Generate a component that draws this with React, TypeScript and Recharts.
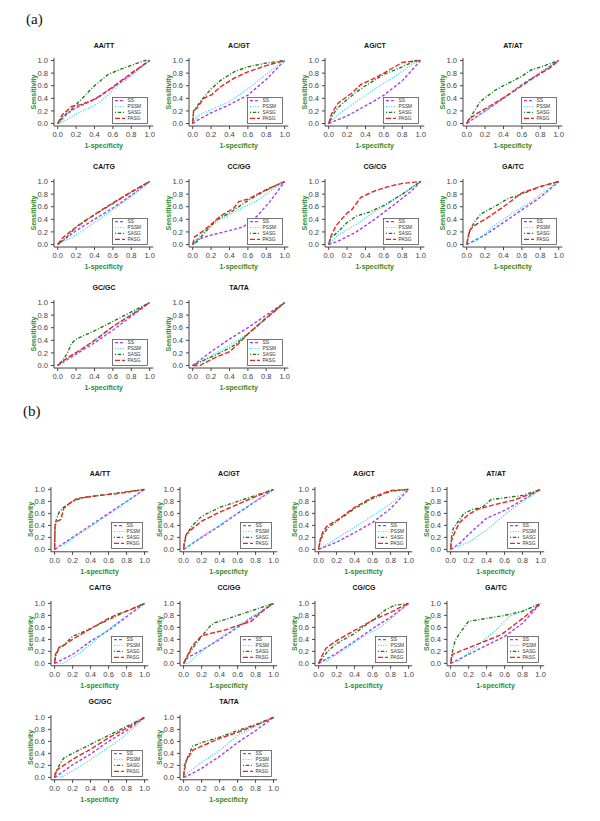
import { LineChart, Line, XAxis, YAxis, Legend } from "recharts";

// ---- series styles ----
const SERIES = [
  { key: "SS", color: "#a43ff0", dash: "3 2" },
  { key: "PSSM", color: "#2fdcee", dash: "1 1.6" },
  { key: "SASG", color: "#1d7d1d", dash: "1 1.8 3.5 1.8" },
  { key: "PASG", color: "#ee2222", dash: "5 2" },
];

const TICKS = [0, 0.2, 0.4, 0.6, 0.8, 1];

// ---- panel (a) ----
const a_AATT = {
  title: "AA/TT",
  SS: [[0, 0], [0.1, 0.15], [0.2, 0.25], [0.4, 0.38], [0.6, 0.57], [0.8, 0.78], [0.95, 0.95], [1, 1]],
  PSSM: [[0, 0], [0.1, 0.06], [0.2, 0.15], [0.3, 0.22], [0.45, 0.33], [0.55, 0.45], [0.65, 0.6], [0.8, 0.75], [1, 1]],
  SASG: [[0, 0], [0.05, 0.1], [0.15, 0.22], [0.2, 0.3], [0.3, 0.45], [0.4, 0.6], [0.55, 0.78], [0.7, 0.87], [0.85, 0.95], [0.95, 1], [1, 1]],
  PASG: [[0, 0], [0.05, 0.14], [0.1, 0.2], [0.15, 0.27], [0.25, 0.3], [0.35, 0.35], [0.45, 0.43], [0.6, 0.58], [0.8, 0.8], [0.9, 0.9], [1, 1]],
};
const a_ACGT = {
  title: "AC/GT",
  SS: [[0, 0], [0.05, 0.05], [0.2, 0.17], [0.4, 0.3], [0.6, 0.45], [0.8, 0.7], [1, 1]],
  PSSM: [[0, 0], [0.05, 0.12], [0.2, 0.22], [0.4, 0.35], [0.6, 0.55], [0.8, 0.78], [1, 1]],
  SASG: [[0, 0], [0.01, 0.2], [0.05, 0.28], [0.1, 0.38], [0.2, 0.55], [0.3, 0.68], [0.45, 0.82], [0.6, 0.9], [0.8, 0.96], [1, 1]],
  PASG: [[0, 0], [0.01, 0.2], [0.05, 0.25], [0.12, 0.4], [0.2, 0.45], [0.3, 0.58], [0.45, 0.72], [0.6, 0.82], [0.8, 0.92], [1, 1]],
};
const a_AGCT = {
  title: "AG/CT",
  SS: [[0, 0], [0.2, 0.12], [0.4, 0.28], [0.6, 0.45], [0.8, 0.68], [1, 1]],
  PSSM: [[0, 0], [0.1, 0.14], [0.3, 0.35], [0.5, 0.55], [0.7, 0.73], [0.9, 0.93], [1, 1]],
  SASG: [[0, 0], [0.05, 0.15], [0.1, 0.25], [0.2, 0.38], [0.3, 0.5], [0.4, 0.6], [0.6, 0.78], [0.8, 0.9], [0.95, 1], [1, 1]],
  PASG: [[0, 0], [0.03, 0.15], [0.1, 0.32], [0.2, 0.43], [0.25, 0.48], [0.35, 0.62], [0.5, 0.72], [0.6, 0.8], [0.8, 0.97], [1, 1]],
};
const a_ATAT = {
  title: "AT/AT",
  SS: [[0, 0], [0.2, 0.2], [0.4, 0.4], [0.6, 0.62], [0.8, 0.8], [1, 1]],
  PSSM: [[0, 0], [0.2, 0.19], [0.4, 0.4], [0.6, 0.61], [0.8, 0.82], [1, 1]],
  SASG: [[0, 0], [0.05, 0.12], [0.15, 0.35], [0.3, 0.52], [0.4, 0.6], [0.6, 0.75], [0.7, 0.85], [0.85, 0.92], [1, 1]],
  PASG: [[0, 0], [0.02, 0.06], [0.1, 0.15], [0.3, 0.32], [0.5, 0.5], [0.7, 0.7], [0.9, 0.88], [1, 1]],
};
const a_CATG = {
  title: "CA/TG",
  SS: [[0, 0], [0.2, 0.22], [0.4, 0.4], [0.6, 0.58], [0.8, 0.78], [1, 1]],
  PSSM: [[0, 0], [0.2, 0.15], [0.4, 0.35], [0.6, 0.55], [0.8, 0.76], [1, 1]],
  SASG: [[0, 0], [0.1, 0.12], [0.2, 0.28], [0.4, 0.47], [0.6, 0.65], [0.8, 0.83], [1, 1]],
  PASG: [[0, 0], [0.05, 0.1], [0.15, 0.22], [0.3, 0.38], [0.5, 0.57], [0.7, 0.75], [0.9, 0.92], [1, 1]],
};
const a_CCGG = {
  title: "CC/GG",
  SS: [[0, 0], [0.05, 0.08], [0.2, 0.15], [0.4, 0.22], [0.55, 0.28], [0.7, 0.45], [0.85, 0.7], [1, 1]],
  PSSM: [[0, 0], [0.1, 0.18], [0.3, 0.4], [0.5, 0.55], [0.7, 0.7], [0.85, 0.85], [1, 1]],
  SASG: [[0, 0], [0.05, 0.05], [0.15, 0.22], [0.25, 0.38], [0.4, 0.5], [0.55, 0.65], [0.7, 0.78], [0.85, 0.9], [1, 1]],
  PASG: [[0, 0], [0.02, 0.12], [0.1, 0.2], [0.2, 0.32], [0.3, 0.45], [0.45, 0.58], [0.5, 0.68], [0.6, 0.72], [0.8, 0.87], [1, 1]],
};
const a_CGCG = {
  title: "CG/CG",
  SS: [[0, 0], [0.1, 0.05], [0.3, 0.2], [0.5, 0.4], [0.7, 0.62], [0.9, 0.85], [1, 1]],
  PSSM: [[0, 0], [0.1, 0.15], [0.3, 0.32], [0.5, 0.52], [0.7, 0.7], [0.9, 0.9], [1, 1]],
  SASG: [[0, 0], [0.02, 0.1], [0.1, 0.2], [0.2, 0.35], [0.3, 0.45], [0.45, 0.52], [0.6, 0.62], [0.8, 0.8], [1, 1]],
  PASG: [[0, 0], [0.02, 0.12], [0.08, 0.3], [0.2, 0.5], [0.25, 0.55], [0.35, 0.75], [0.5, 0.85], [0.65, 0.92], [0.8, 0.97], [1, 1]],
};
const a_GATC = {
  title: "GA/TC",
  SS: [[0, 0], [0.2, 0.15], [0.4, 0.35], [0.6, 0.55], [0.8, 0.75], [1, 1]],
  PSSM: [[0, 0], [0.1, 0.05], [0.3, 0.3], [0.5, 0.5], [0.7, 0.68], [0.9, 0.9], [1, 1]],
  SASG: [[0, 0], [0.03, 0.2], [0.08, 0.35], [0.15, 0.48], [0.3, 0.6], [0.45, 0.73], [0.6, 0.8], [0.8, 0.92], [1, 1]],
  PASG: [[0, 0], [0.03, 0.22], [0.08, 0.3], [0.2, 0.4], [0.4, 0.6], [0.6, 0.82], [0.8, 0.92], [1, 1]],
};
const a_GCGC = {
  title: "GC/GC",
  SS: [[0, 0], [0.2, 0.18], [0.4, 0.36], [0.6, 0.56], [0.8, 0.78], [1, 1]],
  PSSM: [[0, 0], [0.2, 0.2], [0.4, 0.4], [0.6, 0.62], [0.8, 0.82], [1, 1]],
  SASG: [[0, 0], [0.05, 0.08], [0.1, 0.18], [0.15, 0.35], [0.2, 0.42], [0.4, 0.55], [0.6, 0.7], [0.8, 0.85], [1, 1]],
  PASG: [[0, 0], [0.1, 0.12], [0.25, 0.25], [0.45, 0.45], [0.6, 0.62], [0.8, 0.8], [1, 1]],
};
const a_TATA = {
  title: "TA/TA",
  SS: [[0, 0], [0.2, 0.22], [0.4, 0.42], [0.6, 0.6], [0.8, 0.8], [1, 1]],
  PSSM: [[0, 0], [0.2, 0.15], [0.4, 0.32], [0.6, 0.5], [0.8, 0.75], [1, 1]],
  SASG: [[0, 0], [0.1, 0.07], [0.3, 0.2], [0.45, 0.32], [0.6, 0.5], [0.8, 0.76], [1, 1]],
  PASG: [[0, 0], [0.08, 0], [0.1, 0.02], [0.25, 0.13], [0.4, 0.22], [0.5, 0.35], [0.6, 0.5], [0.8, 0.75], [1, 1]],
};

// ---- panel (b) ----
const b_AATT = {
  title: "AA/TT",
  SS: [[0, 0], [0.2, 0.2], [0.4, 0.4], [0.6, 0.6], [0.8, 0.8], [1, 1]],
  PSSM: [[0, 0], [0.1, 0.08], [0.3, 0.28], [0.6, 0.58], [0.8, 0.79], [1, 1]],
  SASG: [[0, 0], [0.005, 0.4], [0.02, 0.5], [0.05, 0.62], [0.1, 0.7], [0.2, 0.8], [0.3, 0.86], [0.5, 0.9], [0.7, 0.94], [1, 1]],
  PASG: [[0, 0], [0.005, 0.4], [0.03, 0.47], [0.07, 0.5], [0.1, 0.68], [0.15, 0.75], [0.25, 0.85], [0.5, 0.9], [0.7, 0.93], [1, 1]],
};
const b_ACGT = {
  title: "AC/GT",
  SS: [[0, 0], [0.2, 0.2], [0.4, 0.39], [0.6, 0.6], [0.8, 0.8], [1, 1]],
  PSSM: [[0, 0], [0.2, 0.21], [0.4, 0.41], [0.6, 0.61], [0.8, 0.81], [1, 1]],
  SASG: [[0, 0], [0.01, 0.15], [0.03, 0.25], [0.1, 0.4], [0.2, 0.55], [0.4, 0.7], [0.6, 0.8], [0.8, 0.9], [1, 1]],
  PASG: [[0, 0], [0.01, 0.1], [0.03, 0.25], [0.1, 0.35], [0.2, 0.47], [0.4, 0.62], [0.6, 0.75], [0.8, 0.88], [1, 1]],
};
const b_AGCT = {
  title: "AG/CT",
  SS: [[0, 0], [0.2, 0.12], [0.4, 0.28], [0.6, 0.45], [0.8, 0.68], [1, 1]],
  PSSM: [[0, 0], [0.2, 0.18], [0.4, 0.37], [0.6, 0.56], [0.8, 0.76], [0.95, 0.95], [1, 1]],
  SASG: [[0, 0], [0.02, 0.15], [0.05, 0.25], [0.1, 0.35], [0.2, 0.47], [0.4, 0.68], [0.6, 0.85], [0.8, 0.97], [1, 1]],
  PASG: [[0, 0], [0.02, 0.18], [0.05, 0.3], [0.1, 0.4], [0.2, 0.48], [0.4, 0.7], [0.6, 0.87], [0.8, 0.98], [1, 1]],
};
const b_ATAT = {
  title: "AT/AT",
  SS: [[0, 0], [0.1, 0.1], [0.2, 0.25], [0.4, 0.52], [0.6, 0.65], [0.8, 0.82], [1, 1]],
  PSSM: [[0, 0], [0.2, 0.12], [0.4, 0.32], [0.6, 0.58], [0.8, 0.8], [1, 1]],
  SASG: [[0, 0], [0.01, 0.2], [0.03, 0.35], [0.1, 0.5], [0.15, 0.6], [0.25, 0.67], [0.35, 0.7], [0.45, 0.83], [0.6, 0.86], [0.8, 0.9], [1, 1]],
  PASG: [[0, 0], [0.01, 0.15], [0.05, 0.3], [0.1, 0.45], [0.2, 0.58], [0.3, 0.67], [0.5, 0.75], [0.7, 0.82], [0.9, 0.93], [1, 1]],
};
const b_CATG = {
  title: "CA/TG",
  SS: [[0, 0], [0.2, 0.15], [0.4, 0.37], [0.6, 0.55], [0.8, 0.78], [1, 1]],
  PSSM: [[0, 0], [0.1, 0], [0.3, 0.2], [0.5, 0.45], [0.7, 0.68], [0.85, 0.85], [1, 1]],
  SASG: [[0, 0], [0.01, 0.12], [0.05, 0.25], [0.1, 0.3], [0.2, 0.45], [0.4, 0.58], [0.6, 0.73], [0.8, 0.87], [1, 1]],
  PASG: [[0, 0], [0.01, 0.15], [0.05, 0.27], [0.1, 0.3], [0.2, 0.4], [0.4, 0.58], [0.6, 0.75], [0.7, 0.82], [0.85, 0.9], [1, 1]],
};
const b_CCGG = {
  title: "CC/GG",
  SS: [[0, 0], [0.05, 0.1], [0.2, 0.22], [0.4, 0.4], [0.6, 0.6], [0.8, 0.8], [1, 1]],
  PSSM: [[0, 0], [0.05, 0], [0.2, 0.2], [0.4, 0.42], [0.6, 0.62], [0.8, 0.82], [1, 1]],
  SASG: [[0, 0], [0.05, 0.15], [0.1, 0.25], [0.2, 0.45], [0.3, 0.63], [0.35, 0.68], [0.5, 0.75], [0.7, 0.85], [0.9, 0.95], [1, 1]],
  PASG: [[0, 0], [0.05, 0.15], [0.1, 0.3], [0.2, 0.46], [0.3, 0.5], [0.45, 0.55], [0.6, 0.63], [0.75, 0.7], [0.9, 0.9], [1, 1]],
};
const b_CGCG = {
  title: "CG/CG",
  SS: [[0, 0], [0.2, 0.17], [0.4, 0.37], [0.6, 0.58], [0.8, 0.77], [1, 1]],
  PSSM: [[0, 0], [0.1, 0.05], [0.3, 0.25], [0.5, 0.45], [0.7, 0.62], [0.85, 0.8], [1, 1]],
  SASG: [[0, 0], [0.05, 0.1], [0.1, 0.2], [0.2, 0.33], [0.4, 0.5], [0.6, 0.72], [0.75, 0.9], [0.85, 0.97], [1, 1]],
  PASG: [[0, 0], [0.03, 0.1], [0.08, 0.25], [0.2, 0.38], [0.4, 0.55], [0.6, 0.72], [0.8, 0.85], [0.9, 0.93], [1, 1]],
};
const b_GATC = {
  title: "GA/TC",
  SS: [[0, 0], [0.2, 0.15], [0.4, 0.3], [0.6, 0.45], [0.8, 0.67], [1, 1]],
  PSSM: [[0, 0], [0.1, 0.05], [0.3, 0.3], [0.5, 0.55], [0.65, 0.78], [0.8, 0.87], [1, 1]],
  SASG: [[0, 0], [0.02, 0.2], [0.05, 0.38], [0.1, 0.5], [0.2, 0.7], [0.4, 0.75], [0.6, 0.8], [0.8, 0.87], [1, 1]],
  PASG: [[0, 0], [0.02, 0.15], [0.1, 0.2], [0.3, 0.32], [0.55, 0.47], [0.6, 0.52], [0.8, 0.75], [1, 1]],
};
const b_GCGC = {
  title: "GC/GC",
  SS: [[0, 0], [0.05, 0.05], [0.2, 0.21], [0.4, 0.39], [0.6, 0.6], [0.8, 0.78], [1, 1]],
  PSSM: [[0, 0], [0.1, 0.02], [0.3, 0.2], [0.5, 0.4], [0.7, 0.6], [0.9, 0.85], [1, 1]],
  SASG: [[0, 0], [0.02, 0.1], [0.05, 0.2], [0.1, 0.32], [0.2, 0.4], [0.4, 0.55], [0.6, 0.7], [0.8, 0.85], [1, 1]],
  PASG: [[0, 0], [0.01, 0.1], [0.05, 0.15], [0.1, 0.2], [0.2, 0.3], [0.4, 0.47], [0.6, 0.66], [0.8, 0.82], [1, 1]],
};
const b_TATA = {
  title: "TA/TA",
  SS: [[0, 0], [0.05, 0.03], [0.2, 0.15], [0.4, 0.35], [0.6, 0.58], [0.8, 0.78], [1, 1]],
  PSSM: [[0, 0], [0.05, 0.08], [0.2, 0.25], [0.4, 0.45], [0.6, 0.7], [0.8, 0.85], [1, 1]],
  SASG: [[0, 0], [0.01, 0.2], [0.03, 0.28], [0.05, 0.35], [0.1, 0.52], [0.2, 0.58], [0.4, 0.67], [0.6, 0.78], [0.8, 0.88], [1, 1]],
  PASG: [[0, 0], [0.01, 0.12], [0.03, 0.28], [0.06, 0.35], [0.1, 0.45], [0.2, 0.52], [0.4, 0.65], [0.6, 0.75], [0.8, 0.87], [1, 1]],
};

const PLOTS_A = [a_AATT, a_ACGT, a_AGCT, a_ATAT, a_CATG, a_CCGG, a_CGCG, a_GATC, a_GCGC, a_TATA];
const PLOTS_B = [b_AATT, b_ACGT, b_AGCT, b_ATAT, b_CATG, b_CCGG, b_CGCG, b_GATC, b_GCGC, b_TATA];

// grid layout of the two panels (pixel of value 0 on x, value 1 on y)
const LAYOUT_A = { cols: [58, 193, 329, 467], rows: [61, 182, 303], sx: 92, sy: 63, legW: 36 };
const LAYOUT_B = { cols: [55, 184, 319, 451], rows: [489, 603, 717], sx: 90, sy: 60, legW: 32 };

const FONT = "'Liberation Sans', Arial, sans-serif";
const GREEN = "#2f8a2f";
const PAD = 0.04;

const toXY = (pts: number[][]) => pts.map(([x, y]) => ({ x, y }));

function LegendBox({ w, h }: { w: number; h: number }) {
  return (
    <svg width={w} height={h} style={{ display: "block" }}>
      <rect x={0.5} y={0.5} width={w - 1} height={h - 1} fill="#fff" stroke="#555" strokeWidth={0.8} />
      {SERIES.map((s, i) => {
        const cy = 3.6 + i * 5.9;
        return (
          <g key={s.key}>
            <line x1={3} x2={13} y1={cy} y2={cy} stroke={s.color} strokeWidth={1.2} strokeDasharray={s.dash} />
            <text x={15.5} y={cy + 1.7} fontSize={4.8} fill="#333" fontFamily={FONT}>
              {s.key}
            </text>
          </g>
        );
      })}
    </svg>
  );
}

function RocPlot({ plot, x0, y1, sx, sy, legW }: any) {
  const ML = 40, MT = 8, MR = 4, XH = 26;
  const bw = sx * (1 + 2 * PAD);
  const bh = sy * (1 + 2 * PAD);
  const W = ML + bw + MR;
  const H = MT + bh + XH;
  const left = x0 - sx * PAD - ML;
  const top = y1 - sy * PAD - MT;
  const legH = 27;
  const legLeft = ML + (PAD + 0.98) * sx - legW;
  const legTop = MT + (PAD + 1) * sy - legH;
  const titleY = MT + sy * PAD - 15;
  return (
    <div style={{ position: "absolute", left, top, width: W, height: H }}>
      <div
        style={{
          position: "absolute",
          left: ML,
          width: bw,
          top: titleY - 5,
          height: 10,
          lineHeight: "10px",
          textAlign: "center",
          fontFamily: FONT,
          fontWeight: "bold",
          fontSize: 7,
          color: "#111",
        }}
      >
        {plot.title}
      </div>
      <LineChart width={W} height={H} margin={{ top: MT, right: MR, bottom: 0, left: 0 }}>
        <XAxis
          type="number"
          dataKey="x"
          domain={[-PAD, 1 + PAD]}
          ticks={TICKS}
          interval={0}
          height={XH}
          tickSize={3}
          tickMargin={3}
          tickFormatter={(v: number) => v.toFixed(1)}
          tick={{ fontSize: 7.6, fill: "#444", fontFamily: FONT }}
          stroke="#444"
          label={{
            value: "1-specificty",
            position: "insideBottom",
            offset: 4,
            fill: GREEN,
            fontSize: 7,
            fontWeight: "bold",
            fontFamily: FONT,
          }}
        />
        <YAxis
          type="number"
          domain={[-PAD, 1 + PAD]}
          ticks={TICKS}
          interval={0}
          width={ML}
          tickSize={3}
          tickMargin={3}
          tickFormatter={(v: number) => v.toFixed(1)}
          tick={{ fontSize: 7.6, fill: "#444", fontFamily: FONT }}
          stroke="#444"
          label={{
            value: "Sensitivity",
            angle: -90,
            position: "center",
            fill: GREEN,
            fontSize: 7,
            fontWeight: "bold",
            fontFamily: FONT,
          }}
        />
        <Legend
          layout="vertical"
          align="center"
          verticalAlign="middle"
          wrapperStyle={{ left: legLeft, top: legTop, width: legW, height: legH }}
          content={() => <LegendBox w={legW} h={legH} />}
        />
        {SERIES.map((s) => (
          <Line
            key={s.key}
            name={s.key}
            data={toXY(plot[s.key])}
            dataKey="y"
            type="linear"
            stroke={s.color}
            strokeWidth={1.4}
            strokeDasharray={s.dash}
            dot={false}
            activeDot={false}
            isAnimationActive={false}
          />
        ))}
      </LineChart>
    </div>
  );
}

function Panel({ plots, layout }: any) {
  return (
    <>
      {plots.map((p: any, i: number) => (
        <RocPlot
          key={p.title}
          plot={p}
          x0={layout.cols[i % 4]}
          y1={layout.rows[Math.floor(i / 4)]}
          sx={layout.sx}
          sy={layout.sy}
          legW={layout.legW}
        />
      ))}
    </>
  );
}

export default function App() {
  const lbl = {
    position: "absolute" as const,
    fontFamily: "'Liberation Serif', 'Times New Roman', serif",
    fontSize: 15,
    lineHeight: "16px",
    color: "#111",
  };
  return (
    <div style={{ position: "absolute", left: 0, top: 0, width: 600, height: 821, background: "#fff", overflow: "hidden" }}>
      <div style={{ ...lbl, left: 26, top: 11 }}>(a)</div>
      <div style={{ ...lbl, left: 23, top: 403 }}>(b)</div>
      <Panel plots={PLOTS_A} layout={LAYOUT_A} />
      <Panel plots={PLOTS_B} layout={LAYOUT_B} />
    </div>
  );
}
